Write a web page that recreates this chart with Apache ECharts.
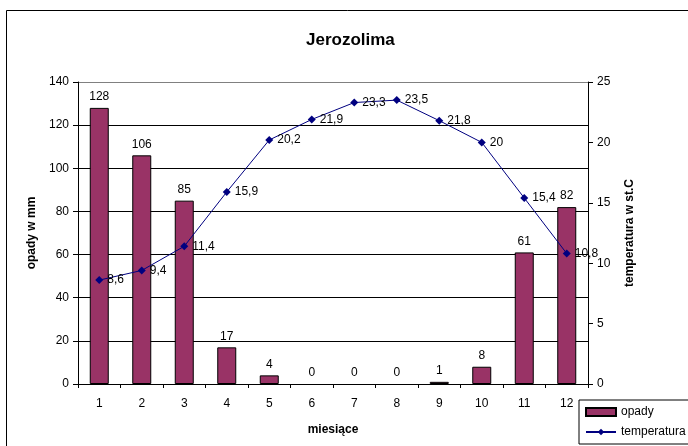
<!DOCTYPE html>
<html>
<head>
<meta charset="utf-8">
<script src="https://cdn.jsdelivr.net/npm/echarts@6/dist/echarts.min.js"></script>
<style>
html,body{margin:0;padding:0;background:#fff;}
#c{width:688px;height:446px;}
</style>
</head>
<body>
<div id="c"></div>
<script>
var months = ['1','2','3','4','5','6','7','8','9','10','11','12'];
var opady = [128,106,85,17,4,0,0,0,1,8,61,82];
var temperatura = [8.6,9.4,11.4,15.9,20.2,21.9,23.3,23.5,21.8,20,15.4,10.8];
var leftTicks = [0,20,40,60,80,100,120,140];
var rightTicks = [0,5,10,15,20,25];

var FONT = '"Liberation Sans", Arial, sans-serif';
var chart = echarts.init(document.getElementById('c'), null, {renderer:'canvas'});
var gridColors = leftTicks.map(function(v,i){ return i === leftTicks.length-1 ? '#808080' : '#000'; });
var barData = opady.map(function(v){
  return v === 0 ? {value:v, itemStyle:{borderWidth:0}} : v;
});

chart.setOption({
  animation:false,
  backgroundColor:'#fff',
  textStyle:{fontFamily:FONT},
  graphic:[{
    type:'rect', left:6, top:10, z:-1,
    shape:{width:700, height:450},
    style:{fill:'#fff', stroke:'#000', lineWidth:1}
  }],
  title:{
    text:'Jerozolima', left:301, top:27,
    textStyle:{fontFamily:FONT, fontSize:17, fontWeight:'bold', color:'#000'}
  },
  legend:{
    orient:'vertical', left:579, top:400,
    padding:[6,6,6,6], itemGap:8,
    borderColor:'#000', borderWidth:1, backgroundColor:'#fff',
    itemWidth:30, itemHeight:8,
    textStyle:{fontFamily:FONT, fontSize:12, color:'#000'},
    data:[{name:'opady', icon:'rect'},{name:'temperatura'}]
  },
  grid:{left:78, right:100, top:82, bottom:62, containLabel:false},
  xAxis:{
    type:'category', data:months, boundaryGap:true,
    name:'miesiące', nameLocation:'middle', nameGap:40,
    nameTextStyle:{fontFamily:FONT, fontSize:12, fontWeight:'bold', color:'#000'},
    axisLine:{lineStyle:{color:'#000', width:1}},
    axisTick:{show:true, length:4, alignWithLabel:false, lineStyle:{color:'#000'}},
    axisLabel:{fontFamily:FONT, fontSize:12, color:'#000', margin:14}
  },
  yAxis:[{
    type:'value', min:0, max:140, interval:20, position:'left',
    name:'opady w mm', nameLocation:'middle', nameGap:40, nameRotate:90,
    nameTextStyle:{fontFamily:FONT, fontSize:12, fontWeight:'bold', color:'#000'},
    axisLine:{show:true, lineStyle:{color:'#000'}},
    axisTick:{show:true, length:5, lineStyle:{color:'#000'}},
    axisLabel:{fontFamily:FONT, fontSize:12, color:'#000', margin:9},
    splitLine:{show:true, lineStyle:{color:gridColors, width:1}}
  },{
    type:'value', min:0, max:25, interval:5, position:'right',
    name:'temperatura w st.C', nameLocation:'middle', nameGap:36, nameRotate:90,
    nameTextStyle:{fontFamily:FONT, fontSize:12, fontWeight:'bold', color:'#000'},
    axisLine:{show:true, lineStyle:{color:'#000'}},
    axisTick:{show:true, length:5, lineStyle:{color:'#000'}},
    axisLabel:{fontFamily:FONT, fontSize:12, color:'#000', margin:9},
    splitLine:{show:false}
  }],
  series:[{
    name:'opady', type:'bar', yAxisIndex:0, data:barData, barWidth:19,
    itemStyle:{color:'#993366', borderColor:'#000', borderWidth:1},
    label:{show:true, position:'top', distance:5, fontFamily:FONT, fontSize:12, color:'#000'}
  },{
    name:'temperatura', type:'line', yAxisIndex:1, data:temperatura,
    symbol:'diamond', symbolSize:8,
    lineStyle:{color:'#000080', width:1},
    itemStyle:{color:'#000080'},
    label:{show:true, position:'right', distance:4, fontFamily:FONT, fontSize:12, color:'#000',
      formatter:function(p){ return String(p.value).replace('.', ','); }}
  }]
});
</script>
</body>
</html>
